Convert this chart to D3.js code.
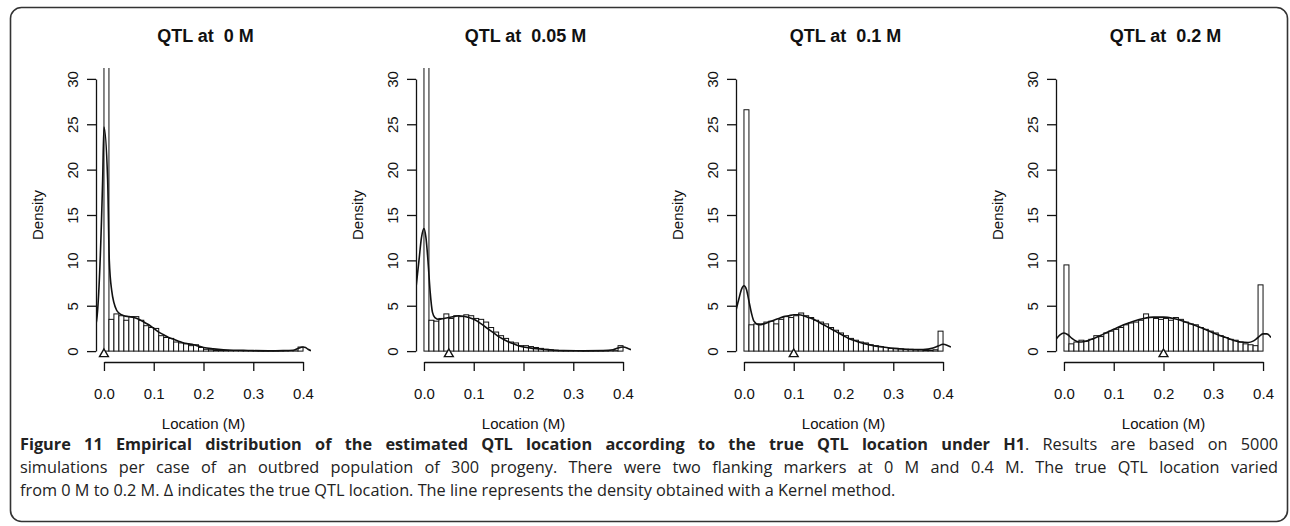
<!DOCTYPE html>
<html>
<head>
<meta charset="utf-8">
<script src="https://cdn.jsdelivr.net/npm/d3@7"></script>
<style>
  body { margin: 0; background: #fff; }
  svg { display: block; font-family: "Liberation Sans", Arial, Helvetica, sans-serif; }
  .axis path, .axis line { stroke: #111; stroke-width: 1.3; }
  .axis text { font-size: 15px; fill: #111; font-family: "Liberation Sans", Arial, sans-serif; }
  .caption { font-family: "Open Sans", sans-serif; font-size: 16.3px; fill: #222; }
</style>
</head>
<body>
<div id="chart"></div>
<script>
// panel titles and the true QTL position (the triangle)
var titles = ["QTL at  0 M", "QTL at  0.05 M", "QTL at  0.1 M", "QTL at  0.2 M"];
var trueQTL = [0, 0.05, 0.1, 0.2];

// left edge of each histogram bin (width 0.01 M)
var binStarts = [0.00, 0.01, 0.02, 0.03, 0.04, 0.05, 0.06, 0.07, 0.08, 0.09,
                 0.10, 0.11, 0.12, 0.13, 0.14, 0.15, 0.16, 0.17, 0.18, 0.19,
                 0.20, 0.21, 0.22, 0.23, 0.24, 0.25, 0.26, 0.27, 0.28, 0.29,
                 0.30, 0.31, 0.32, 0.33, 0.34, 0.35, 0.36, 0.37, 0.38, 0.39];
var binWidth = 0.01;

// histogram densities
var hist00 = [40, 3.5, 4.1, 3.9, 3.4, 3.8, 3.8, 3.4, 2.8, 2.6, 2.5, 1.7, 1.5, 1.4, 1.0, 0.9, 0.8, 0.6, 0.7, 0.4,
              0.2, 0.15, 0.1, 0.1, 0.08, 0.05, 0.05, 0.03, 0.03, 0.02, 0.02, 0.02, 0.01, 0.01, 0.01, 0.01, 0.02, 0.02, 0.03, 0.45];
var hist05 = [40, 3.4, 3.3, 3.6, 4.1, 3.6, 3.9, 3.8, 4.0, 3.9, 3.6, 3.5, 3.2, 2.6, 2.1, 1.7, 1.4, 1.0, 0.9, 0.6,
              0.6, 0.5, 0.4, 0.3, 0.2, 0.15, 0.1, 0.05, 0.04, 0.03, 0.02, 0.02, 0.02, 0.02, 0.02, 0.02, 0.03, 0.03, 0.05, 0.6];
var hist10 = [26.6, 2.9, 3.0, 3.0, 3.2, 3.3, 3.0, 3.5, 3.8, 3.7, 3.9, 4.2, 3.9, 3.7, 3.4, 3.2, 3.0, 2.6, 2.3, 2.0,
              1.7, 1.4, 1.2, 1.0, 0.9, 0.7, 0.6, 0.5, 0.4, 0.3, 0.3, 0.25, 0.2, 0.2, 0.15, 0.15, 0.1, 0.1, 0.15, 2.2];
var hist20 = [9.5, 0.8, 1.0, 1.2, 1.1, 1.3, 1.7, 1.6, 2.0, 2.2, 2.4, 2.6, 2.9, 3.1, 3.2, 3.4, 4.1, 3.7, 3.6, 3.5,
              3.6, 3.4, 3.7, 3.5, 3.2, 3.0, 2.9, 2.6, 2.4, 2.2, 2.0, 1.7, 1.5, 1.3, 1.2, 1.0, 0.8, 0.7, 0.6, 7.3];

// kernel density curves [location, density]
var kern00 = [[-0.016, 3.0], [-0.0147, 3.4], [-0.0026, 18.9], [0, 24.7], [0.0074, 18.9], [0.0107, 10],
              [0.0155, 6.7], [0.0255, 4.5], [0.03, 4.2], [0.04, 3.9], [0.05, 3.8], [0.06, 3.7], [0.07, 3.5],
              [0.08, 3.2], [0.09, 2.9], [0.10, 2.5], [0.11, 2.1], [0.12, 1.8], [0.13, 1.5], [0.14, 1.3],
              [0.15, 1.1], [0.16, 0.9], [0.17, 0.8], [0.18, 0.7], [0.19, 0.55], [0.20, 0.4], [0.22, 0.25],
              [0.24, 0.15], [0.26, 0.1], [0.28, 0.08], [0.30, 0.05], [0.33, 0.03], [0.36, 0.05], [0.38, 0.1],
              [0.39, 0.3], [0.40, 0.45], [0.405, 0.4], [0.41, 0.2], [0.416, 0.05]];
var kern05 = [[-0.016, 7], [-0.01, 10], [-0.005, 12.5], [0, 13.5], [0.004, 12.5], [0.008, 10], [0.0125, 6.5],
              [0.017, 4.3], [0.022, 3.7], [0.03, 3.5], [0.04, 3.6], [0.05, 3.7], [0.06, 3.8], [0.07, 3.9],
              [0.08, 3.85], [0.09, 3.7], [0.10, 3.5], [0.11, 3.2], [0.12, 2.8], [0.13, 2.4], [0.14, 2.0],
              [0.15, 1.6], [0.16, 1.3], [0.17, 1.0], [0.18, 0.8], [0.19, 0.6], [0.20, 0.45], [0.22, 0.3],
              [0.24, 0.2], [0.26, 0.1], [0.28, 0.05], [0.32, 0.03], [0.36, 0.05], [0.38, 0.15], [0.39, 0.35],
              [0.40, 0.45], [0.41, 0.3], [0.416, 0.15]];
var kern10 = [[-0.016, 4.5], [-0.01, 5.8], [-0.005, 6.8], [0, 7.2], [0.005, 6.8], [0.01, 5.5], [0.015, 4.2],
              [0.02, 3.3], [0.03, 2.9], [0.04, 3.0], [0.05, 3.2], [0.06, 3.4], [0.07, 3.6], [0.08, 3.8],
              [0.09, 3.9], [0.10, 4.0], [0.11, 4.0], [0.12, 3.9], [0.13, 3.7], [0.14, 3.5], [0.15, 3.2],
              [0.16, 2.9], [0.17, 2.6], [0.18, 2.3], [0.19, 2.0], [0.20, 1.7], [0.21, 1.4], [0.22, 1.2],
              [0.23, 1.0], [0.24, 0.85], [0.26, 0.6], [0.28, 0.45], [0.30, 0.3], [0.32, 0.22], [0.34, 0.17],
              [0.36, 0.18], [0.38, 0.35], [0.39, 0.55], [0.40, 0.75], [0.41, 0.6], [0.416, 0.45]];
var kern20 = [[-0.016, 1.3], [-0.008, 1.8], [0, 2.0], [0.008, 1.8], [0.016, 1.4], [0.025, 1.1], [0.035, 1.0],
              [0.045, 1.1], [0.06, 1.4], [0.08, 1.9], [0.10, 2.4], [0.12, 2.9], [0.14, 3.3], [0.16, 3.6],
              [0.18, 3.75], [0.20, 3.75], [0.22, 3.6], [0.24, 3.3], [0.26, 2.9], [0.28, 2.5], [0.30, 2.0],
              [0.32, 1.6], [0.34, 1.2], [0.355, 1.0], [0.37, 0.95], [0.38, 1.1], [0.39, 1.5], [0.40, 1.9],
              [0.408, 1.9], [0.416, 1.5]];

var hists = [hist00, hist05, hist10, hist20];
var kerns = [kern00, kern05, kern10, kern20];

var xTicks = [0, 0.1, 0.2, 0.3, 0.4];
var yTicks = [0, 5, 10, 15, 20, 25, 30];

// caption lines
var capBold = "Figure 11 Empirical distribution of the estimated QTL location according to the true QTL location under H1";
var capLines = [". Results are based on 5000",
  "simulations per case of an outbred population of 300 progeny. There were two flanking markers at 0 M and 0.4 M. The true QTL location varied",
  "from 0 M to 0.2 M. \u0394 indicates the true QTL location. The line represents the density obtained with a Kernel method."];

var width = 1290, height = 526;
var panelStep = 320;

var svg = d3.select("#chart").append("svg")
  .attr("width", width)
  .attr("height", height);

// rounded figure frame
svg.append("rect")
  .attr("x", 10.5).attr("y", 7.5)
  .attr("width", 1277).attr("height", 514)
  .attr("rx", 11)
  .attr("fill", "none")
  .attr("stroke", "#333")
  .attr("stroke-width", 1.6);

// plot region (R adds 4% on each side)
var xScale = d3.scaleLinear().domain([-0.016, 0.416]).range([96, 311]);
var yScale = d3.scaleLinear().domain([-1.2, 31.2]).range([362, 68]);

svg.append("defs").append("clipPath").attr("id", "plotClip")
  .append("rect")
  .attr("x", 96).attr("y", 68)
  .attr("width", 215).attr("height", 294);

var kernLine = d3.line()
  .x(function(d) { return xScale(d[0]); })
  .y(function(d) { return yScale(d[1]); })
  .curve(d3.curveMonotoneX);

titles.forEach(function(title, i) {
  var g = svg.append("g").attr("transform", "translate(" + (i * panelStep) + ",0)");
  var plot = g.append("g").attr("clip-path", "url(#plotClip)");

  // bars
  plot.selectAll("rect.bar")
    .data(hists[i])
    .enter()
    .append("rect")
    .attr("class", "bar")
    .attr("x", function(d, j) { return xScale(binStarts[j]); })
    .attr("width", function(d, j) { return xScale(binStarts[j] + binWidth) - xScale(binStarts[j]); })
    .attr("y", function(d) { return yScale(d); })
    .attr("height", function(d) { return yScale(0) - yScale(d); })
    .attr("fill", "#fff")
    .attr("stroke", "#111")
    .attr("stroke-width", 1);

  // kernel line
  plot.append("path")
    .datum(kerns[i])
    .attr("d", kernLine)
    .attr("fill", "none")
    .attr("stroke", "#111")
    .attr("stroke-width", 1.6);

  // true QTL triangle
  g.append("path")
    .attr("d", d3.symbol(d3.symbolTriangle, 34)())
    .attr("transform", "translate(" + xScale(trueQTL[i]) + "," + (yScale(0) + 3) + ")")
    .attr("fill", "#fff")
    .attr("stroke", "#111")
    .attr("stroke-width", 1.4);

  // x axis
  var xa = d3.scaleLinear().domain([0, 0.4]).range([xScale(0), xScale(0.4)]);
  var xAxisG = g.append("g")
    .attr("class", "axis")
    .attr("transform", "translate(0," + yScale.range()[0] + ")")
    .call(d3.axisBottom(xa).tickValues(xTicks).tickFormat(d3.format(".1f")).tickSize(9).tickSizeOuter(0));
  xAxisG.selectAll("text").attr("y", 37).attr("dy", 0);

  // y axis
  var ya = d3.scaleLinear().domain([0, 30]).range([yScale(0), yScale(30)]);
  var yAxisG = g.append("g")
    .attr("class", "axis")
    .attr("transform", "translate(" + xScale.range()[0] + ",0)")
    .call(d3.axisLeft(ya).tickValues(yTicks).tickSize(9).tickSizeOuter(0));
  yAxisG.selectAll("text")
    .attr("transform", "rotate(-90)")
    .attr("x", 0).attr("y", -18).attr("dy", 0)
    .attr("text-anchor", "middle");

  // labels
  var cx = (xScale.range()[0] + xScale.range()[1]) / 2;
  g.append("text")
    .attr("x", cx + 2).attr("y", 41.5)
    .attr("text-anchor", "middle")
    .attr("font-weight", "bold")
    .attr("font-size", 18)
    .attr("fill", "#111")
    .style("white-space", "pre")
    .text(title);

  g.append("text")
    .attr("x", cx).attr("y", 428.5)
    .attr("text-anchor", "middle")
    .attr("font-size", 15)
    .attr("fill", "#111")
    .text("Location (M)");

  g.append("text")
    .attr("transform", "translate(42.5," + ((yScale.range()[0] + yScale.range()[1]) / 2) + ") rotate(-90)")
    .attr("text-anchor", "middle")
    .attr("font-size", 15)
    .attr("fill", "#111")
    .text("Density");
});

// caption, first two lines justified
var capLeft = 20, capRight = 1278;
var capY = [450, 473, 496];

var line1 = svg.append("text").attr("class", "caption").attr("x", capLeft).attr("y", capY[0]);
line1.append("tspan").attr("font-weight", "bold").text(capBold);
line1.append("tspan").text(capLines[0]);

var line2 = svg.append("text").attr("class", "caption").attr("x", capLeft).attr("y", capY[1]).text(capLines[1]);
svg.append("text").attr("class", "caption").attr("x", capLeft).attr("y", capY[2]).text(capLines[2]);

[[line1, capBold + capLines[0]], [line2, capLines[1]]].forEach(function(p) {
  var len = p[0].node().getComputedTextLength();
  var spaces = p[1].split(" ").length - 1;
  p[0].attr("word-spacing", ((capRight - capLeft - len) / spaces) + "px");
});
</script>
</body>
</html>
